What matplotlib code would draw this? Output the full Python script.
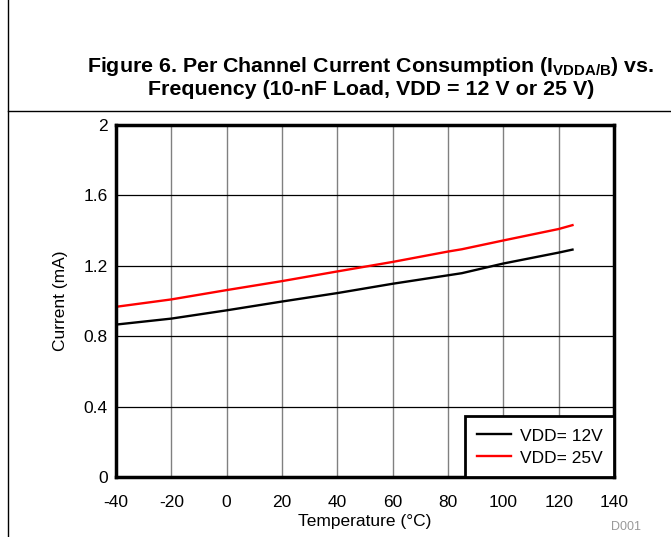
import numpy as np
import matplotlib
matplotlib.use('Agg')
import matplotlib.pyplot as plt
from matplotlib.lines import Line2D

plt.rcParams['font.family'] = ['Liberation Sans', 'DejaVu Sans']
plt.rcParams['mathtext.fontset'] = 'custom'
plt.rcParams['mathtext.rm'] = 'Liberation Sans'
plt.rcParams['mathtext.bf'] = 'Liberation Sans:bold'
plt.rcParams['axes.unicode_minus'] = False

#  data
temp = [-40, -20, 0, 20, 40, 60, 80, 85, 100, 120, 125]
i_12v = [0.866, 0.900, 0.947, 0.997, 1.045, 1.098, 1.146, 1.158, 1.213, 1.275, 1.292]
i_25v = [0.967, 1.009, 1.062, 1.113, 1.168, 1.222, 1.281, 1.294, 1.344, 1.409, 1.431]
labels = ['VDD= 12V', 'VDD= 25V']
xticks = [-40, -20, 0, 20, 40, 60, 80, 100, 120, 140]
yticks = [0, 0.4, 0.8, 1.2, 1.6, 2]
ytick_labels = ['0', '0.4', '0.8', '1.2', '1.6', '2']

W, H = 671, 537
fig = plt.figure(figsize=(W / 100, H / 100), dpi=100)
ax = fig.add_axes([116 / W, 1 - 477 / H, (614 - 116) / W, (477 - 125) / H])

#  grid: vertical grey, horizontal black
for x in xticks[1:-1]:
    ax.axvline(x, color='#808080', lw=1, zorder=1)
for y in yticks[1:-1]:
    ax.axhline(y, color='black', lw=0.9, zorder=1)

ax.plot(temp, i_12v, color='black', lw=1.7, label=labels[0], zorder=3)
ax.plot(temp, i_25v, color='#ff0000', lw=1.7, label=labels[1], zorder=3)

ax.set_xlim(-40, 140)
ax.set_ylim(0, 2)
ax.set_xticks(xticks)
ax.set_yticks(yticks)
ax.set_yticklabels(ytick_labels)
ax.tick_params(length=0, labelsize=12.5)
ax.tick_params(axis='x', pad=13)
ax.tick_params(axis='y', pad=6)
for s in ax.spines.values():
    s.set_linewidth(2.5)
    s.set_zorder(5)

ax.set_xlabel('Temperature (°C)', fontsize=12.5, labelpad=3)
ax.set_ylabel('Current (mA)', fontsize=12.5, labelpad=11)

leg = ax.legend(loc='lower right', borderaxespad=0, fancybox=False,
                framealpha=1, fontsize=12.5, handlelength=2.0, handleheight=1.0,
                borderpad=0.65, labelspacing=0.27, handletextpad=0.5)
leg.get_frame().set_edgecolor('black')
leg.get_frame().set_linewidth(2)
leg.set_zorder(6)

#  title, two lines
fig.text(371 / W, 1 - 71.7 / H,
         r'Figure 6. Per Channel Current Consumption (I$_{\mathbf{VDDA/B}}$) vs.',
         ha='center', va='baseline', fontsize=15.4, fontweight='bold')
fig.text(371 / W, 1 - 95 / H, 'Frequency (10-nF Load, VDD = 12 V or 25 V)',
         ha='center', va='baseline', fontsize=15.4, fontweight='bold')

#  frame lines
fig.add_artist(Line2D([7.5 / W, 7.5 / W], [0, 1], color='black', lw=1))
fig.add_artist(Line2D([7.5 / W, 1], [1 - 110.7 / H, 1 - 110.7 / H], color='black', lw=1))

fig.text(626 / W, 1 - 527 / H, 'D001', ha='center', va='center',
         fontsize=9, color='#999999')

fig.savefig('out.png', dpi=100)
